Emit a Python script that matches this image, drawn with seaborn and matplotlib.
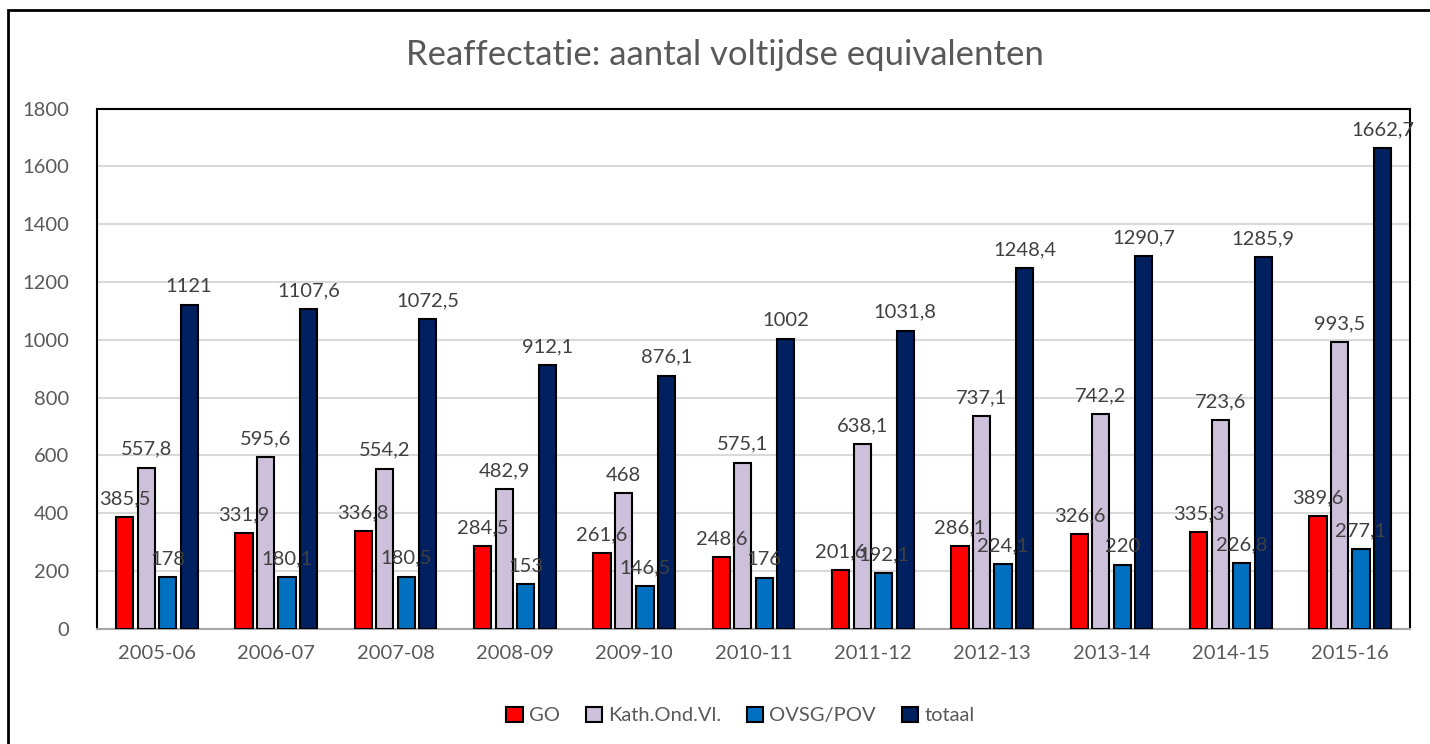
import pandas as pd
import seaborn as sns
import matplotlib.pyplot as plt
from matplotlib.patches import Rectangle

# Data
years = ['2005-06', '2006-07', '2007-08', '2008-09', '2009-10', '2010-11',
         '2011-12', '2012-13', '2013-14', '2014-15', '2015-16']
go = [385.5, 331.9, 336.8, 284.5, 261.6, 248.6, 201.6, 286.1, 326.6, 335.3, 389.6]
kath = [557.8, 595.6, 554.2, 482.9, 468, 575.1, 638.1, 737.1, 742.2, 723.6, 993.5]
ovsg = [178, 180.1, 180.5, 153, 146.5, 176, 192.1, 224.1, 220, 226.8, 277.1]
totaal = [1121, 1107.6, 1072.5, 912.1, 876.1, 1002, 1031.8, 1248.4, 1290.7, 1285.9, 1662.7]
series = ['GO', 'Kath.Ond.Vl.', 'OVSG/POV', 'totaal']
colors = ['#FF0000', '#CCC0DA', '#0070C0', '#002060']

# Long format for seaborn
rows = []
for name, vals in zip(series, [go, kath, ovsg, totaal]):
    for y, v in zip(years, vals):
        rows.append({'jaar': y, 'reeks': name, 'waarde': v})
df = pd.DataFrame(rows)

sns.set_style('white')
plt.rcParams['font.family'] = ['Lato', 'DejaVu Sans']
txt = '#595959'

fig = plt.figure(figsize=(14.3, 7.44), dpi=100)
ax = fig.add_axes([0.068, 0.155, 0.918, 0.699])

sns.barplot(data=df, x='jaar', y='waarde', hue='reeks', palette=colors,
            saturation=1, width=0.72, gap=0.2, edgecolor='black', linewidth=1.5,
            errorbar=None, ax=ax, zorder=3)

# data labels with decimal comma
for cont, vals in zip(ax.containers, [go, kath, ovsg, totaal]):
    labs = [f'{v:g}'.replace('.', ',') for v in vals]
    ax.bar_label(cont, labels=labs, padding=7, fontsize=14.5, color='#404040', zorder=5)

ax.set_ylim(0, 1800)
ax.set_yticks(range(0, 1801, 200))
ax.set_xlim(-0.5, len(years) - 0.5)
ax.yaxis.grid(True, color='#D9D9D9', linewidth=1.5, zorder=0)
ax.set_axisbelow(True)
ax.set_xlabel('')
ax.set_ylabel('')
ax.tick_params(axis='both', length=0, labelsize=14.5, colors=txt, pad=12)
ax.tick_params(axis='y', pad=20)
for side in ['top', 'left', 'right']:
    ax.spines[side].set_color('black')
    ax.spines[side].set_linewidth(1.5)
ax.spines['bottom'].set_color('#A6A6A6')
ax.spines['bottom'].set_linewidth(1.5)

fig.text(0.507, 0.926, 'Reaffectatie: aantal voltijdse equivalenten', fontsize=25,
         color=txt, ha='center', va='center')

leg = ax.legend(loc='upper center', bbox_to_anchor=(0.49, -0.115), ncol=4,
                frameon=False, fontsize=14.5, handlelength=0.8, handleheight=0.8,
                handletextpad=0.3, columnspacing=1.3)
for t in leg.get_texts():
    t.set_color(txt)

# outer chart border
fig.patches.append(Rectangle((0.0056, -0.01), 1.0, 0.997, transform=fig.transFigure,
                             fill=False, edgecolor='black', linewidth=2))

fig.savefig('out.png', dpi=100)
